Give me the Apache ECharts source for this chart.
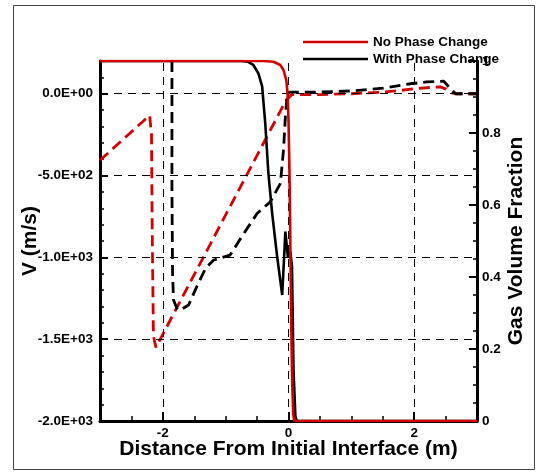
<!DOCTYPE html>
<html><head><meta charset="utf-8">
<script src="https://cdn.jsdelivr.net/npm/echarts@6/dist/echarts.min.js"></script>
<style>html,body{margin:0;padding:0;background:#fff}#c{width:542px;height:476px}</style>
</head><body><div id="c"></div>
<script>
// Gas volume fraction (right axis), solid lines
const noPcGasX = [-3, -0.4, -0.24, -0.13, -0.08, -0.035, -0.015, 0, 0.015, 0.03, 0.045, 0.06, 0.075, 0.09, 3];
const noPcGasY = [1, 1, 0.998, 0.989, 0.975, 0.947, 0.91, 0.836, 0.7, 0.48, 0.25, 0.1, 0.02, 0, 0];
const pcGasX = [-3, -0.75, -0.65, -0.56, -0.48, -0.42, -0.37, -0.32, -0.26, -0.18, -0.10, -0.05, -0.01, 0.03, 0.055, 0.08, 0.11, 0.135, 3];
const pcGasY = [1, 1, 0.998, 0.989, 0.966, 0.93, 0.827, 0.688, 0.577, 0.456, 0.35, 0.526, 0.456, 0.47, 0.43, 0.14, 0.012, 0, 0];
// Velocity (left axis), dashed lines
const noPcVelX = [-3, -2.21, -2.18, -2.17, -2.15, -2.11, -2.09, -0.04, 0.05, 0.5, 1.0, 1.5, 1.78, 2.0, 2.31, 2.41, 2.5, 2.6, 2.65, 3];
const noPcVelY = [-407, -132, -250, -800, -1480, -1550, -1555, -41, -6, -5, 0, 10, 20, 30, 40, 42, 30, 5, 0, 0];
const pcVelX = [-1.855, -1.855, -1.845, -1.83, -1.77, -1.72, -1.59, -1.46, -1.32, -1.19, -0.93, -0.71, -0.5, -0.29, -0.13, -0.08, -0.05, -0.02, 0.03, 0.5, 1.0, 1.5, 1.94, 2.2, 2.47, 2.58, 2.66, 3];
const pcVelY = [200, -600, -1100, -1260, -1317, -1321, -1291, -1179, -1067, -1016, -986, -854, -732, -661, -549, -346, -143, 0, 10, 10, 17, 34, 61, 72, 77, 30, 0, 0];
// Axes / ticks
const xTickVals = [-2, 0, 2];
const vTickVals = [-2000, -1500, -1000, -500, 0];
const vTickLabels = ['-2.0E+03', '-1.5E+03', '-1.0E+03', '-5.0E+02', '0.0E+00'];
const gridXVals = [-2, 0, 2];
const gridYVals = [-1500, -1000, -500, 0];
const legendNames = ['No Phase Change', 'With Phase Change'];

const zip = (xs, ys) => xs.map((x, i) => [x, ys[i]]);
const RED = '#d40000';
const FONT = 'Liberation Sans, Arial, sans-serif';
const LINE_ICON = 'path://M0,0h0.01v0.01h-0.01z M0,5.7h65v2.6h-65z M0,13.99h0.01v0.01h-0.01z';

const chart = echarts.init(document.getElementById('c'), null, {renderer: 'canvas'});
const gridLineStyle = {color: '#000', width: 1, type: [8, 6]};

chart.setOption({
  animation: false,
  backgroundColor: '#fff',
  textStyle: {fontFamily: FONT},
  graphic: [{type: 'rect', shape: {x: 13.5, y: 5.5, width: 521, height: 464}, style: {fill: 'none', stroke: '#444', lineWidth: 1}, z: -1}],
  grid: {left: 100, right: 65, top: 61, bottom: 55, containLabel: false, outerBoundsMode: 'none'},
  legend: {
    data: legendNames.map(n => ({name: n, icon: LINE_ICON})),
    orient: 'vertical', left: 298, top: 30, itemWidth: 65, itemHeight: 14, itemGap: 3,
    itemStyle: {borderWidth: 0},
    textStyle: {fontFamily: FONT, fontWeight: 'bold', fontSize: 13.5, color: '#000', padding: [0, 0, 0, 0]}
  },
  xAxis: [{
    type: 'value', min: -3, max: 3, interval: 1, position: 'bottom',
    axisLine: {onZero: false, lineStyle: {color: '#000', width: 3}},
    axisTick: {show: true, inside: true, length: 9, customValues: xTickVals, lineStyle: {color: '#000', width: 2}},
    axisLabel: {customValues: xTickVals, color: '#000', fontWeight: 'bold', fontSize: 13.5, fontFamily: FONT, margin: 5},
    splitLine: {show: false},
    name: 'Distance From Initial Interface (m)', nameLocation: 'middle', nameGap: 18, nameMoveOverlap: false,
    nameTextStyle: {fontFamily: FONT, fontWeight: 'bold', fontSize: 21, color: '#000'}
  }, {
    type: 'value', min: -3, max: 3, interval: 0.5, position: 'bottom',
    axisLine: {show: false, onZero: false},
    axisTick: {show: true, inside: true, length: 5, lineStyle: {color: '#000', width: 1.5}},
    axisLabel: {show: false}, splitLine: {show: false}
  }],
  yAxis: [{
    type: 'value', min: -2000, max: 200, interval: 500, position: 'left',
    axisLine: {onZero: false, lineStyle: {color: '#000', width: 3}},
    axisTick: {show: true, inside: true, length: 8, lineStyle: {color: '#000', width: 2}},
    axisLabel: {
      color: '#000', fontWeight: 'bold', fontSize: 13.5, fontFamily: FONT, margin: 7, showMaxLabel: false,
      formatter: v => { const i = vTickVals.indexOf(v); return i >= 0 ? vTickLabels[i] : ''; }
    },
    splitLine: {show: false},
    name: 'V (m/s)', nameLocation: 'middle', nameGap: 59, nameRotate: 90, nameMoveOverlap: false,
    nameTextStyle: {fontFamily: FONT, fontWeight: 'bold', fontSize: 21, color: '#000'}
  }, {
    type: 'value', min: -2000, max: 200, interval: 100, position: 'left',
    axisLine: {show: false, onZero: false},
    axisTick: {show: true, inside: true, length: 4, lineStyle: {color: '#000', width: 1.5}},
    axisLabel: {show: false}, splitLine: {show: false}
  }, {
    type: 'value', min: 0, max: 1, interval: 0.2, position: 'right',
    axisLine: {onZero: false, lineStyle: {color: '#000', width: 3}},
    axisTick: {show: true, inside: true, length: 8, lineStyle: {color: '#000', width: 2}},
    minorTick: {show: true, splitNumber: 4, length: 4, lineStyle: {color: '#000', width: 1.5}},
    axisLabel: {
      color: '#000', fontWeight: 'bold', fontSize: 13.5, fontFamily: FONT, margin: 5,
      formatter: v => (Math.abs(v) < 1e-9 ? '0' : Math.abs(v - 1) < 1e-9 ? '1' : v.toFixed(1))
    },
    splitLine: {show: false}, minorSplitLine: {show: false},
    name: 'Gas Volume Fraction', nameLocation: 'middle', nameGap: 29, nameRotate: 90, nameMoveOverlap: false,
    nameTextStyle: {fontFamily: FONT, fontWeight: 'bold', fontSize: 21, color: '#000'}
  }],
  series: [{
    name: 'grid', type: 'line', xAxisIndex: 0, yAxisIndex: 0, data: [], silent: true,
    markLine: {
      symbol: 'none', silent: true, animation: false, label: {show: false},
      lineStyle: gridLineStyle,
      data: gridXVals.map(v => ({xAxis: v})).concat(gridYVals.map(v => ({yAxis: v})))
    }
  }, {
    name: 'No Phase Change V', type: 'line', xAxisIndex: 0, yAxisIndex: 0, showSymbol: false, symbol: 'none',
    data: zip(noPcVelX, noPcVelY), lineStyle: {color: RED, width: 2.8, type: [11, 6]}, itemStyle: {color: RED}, z: 3
  }, {
    name: 'With Phase Change V', type: 'line', xAxisIndex: 0, yAxisIndex: 0, showSymbol: false, symbol: 'none',
    data: zip(pcVelX, pcVelY), lineStyle: {color: '#000', width: 2.8, type: [11, 6]}, itemStyle: {color: '#000'}, z: 3
  }, {
    name: 'With Phase Change', type: 'line', xAxisIndex: 0, yAxisIndex: 2, showSymbol: false, symbol: 'none',
    data: zip(pcGasX, pcGasY), lineStyle: {color: '#000', width: 2.6}, itemStyle: {color: '#000'}, z: 4
  }, {
    name: 'No Phase Change', type: 'line', xAxisIndex: 0, yAxisIndex: 2, showSymbol: false, symbol: 'none',
    data: zip(noPcGasX, noPcGasY), lineStyle: {color: RED, width: 2.6}, itemStyle: {color: RED}, z: 5
  }]
});
</script></body></html>
